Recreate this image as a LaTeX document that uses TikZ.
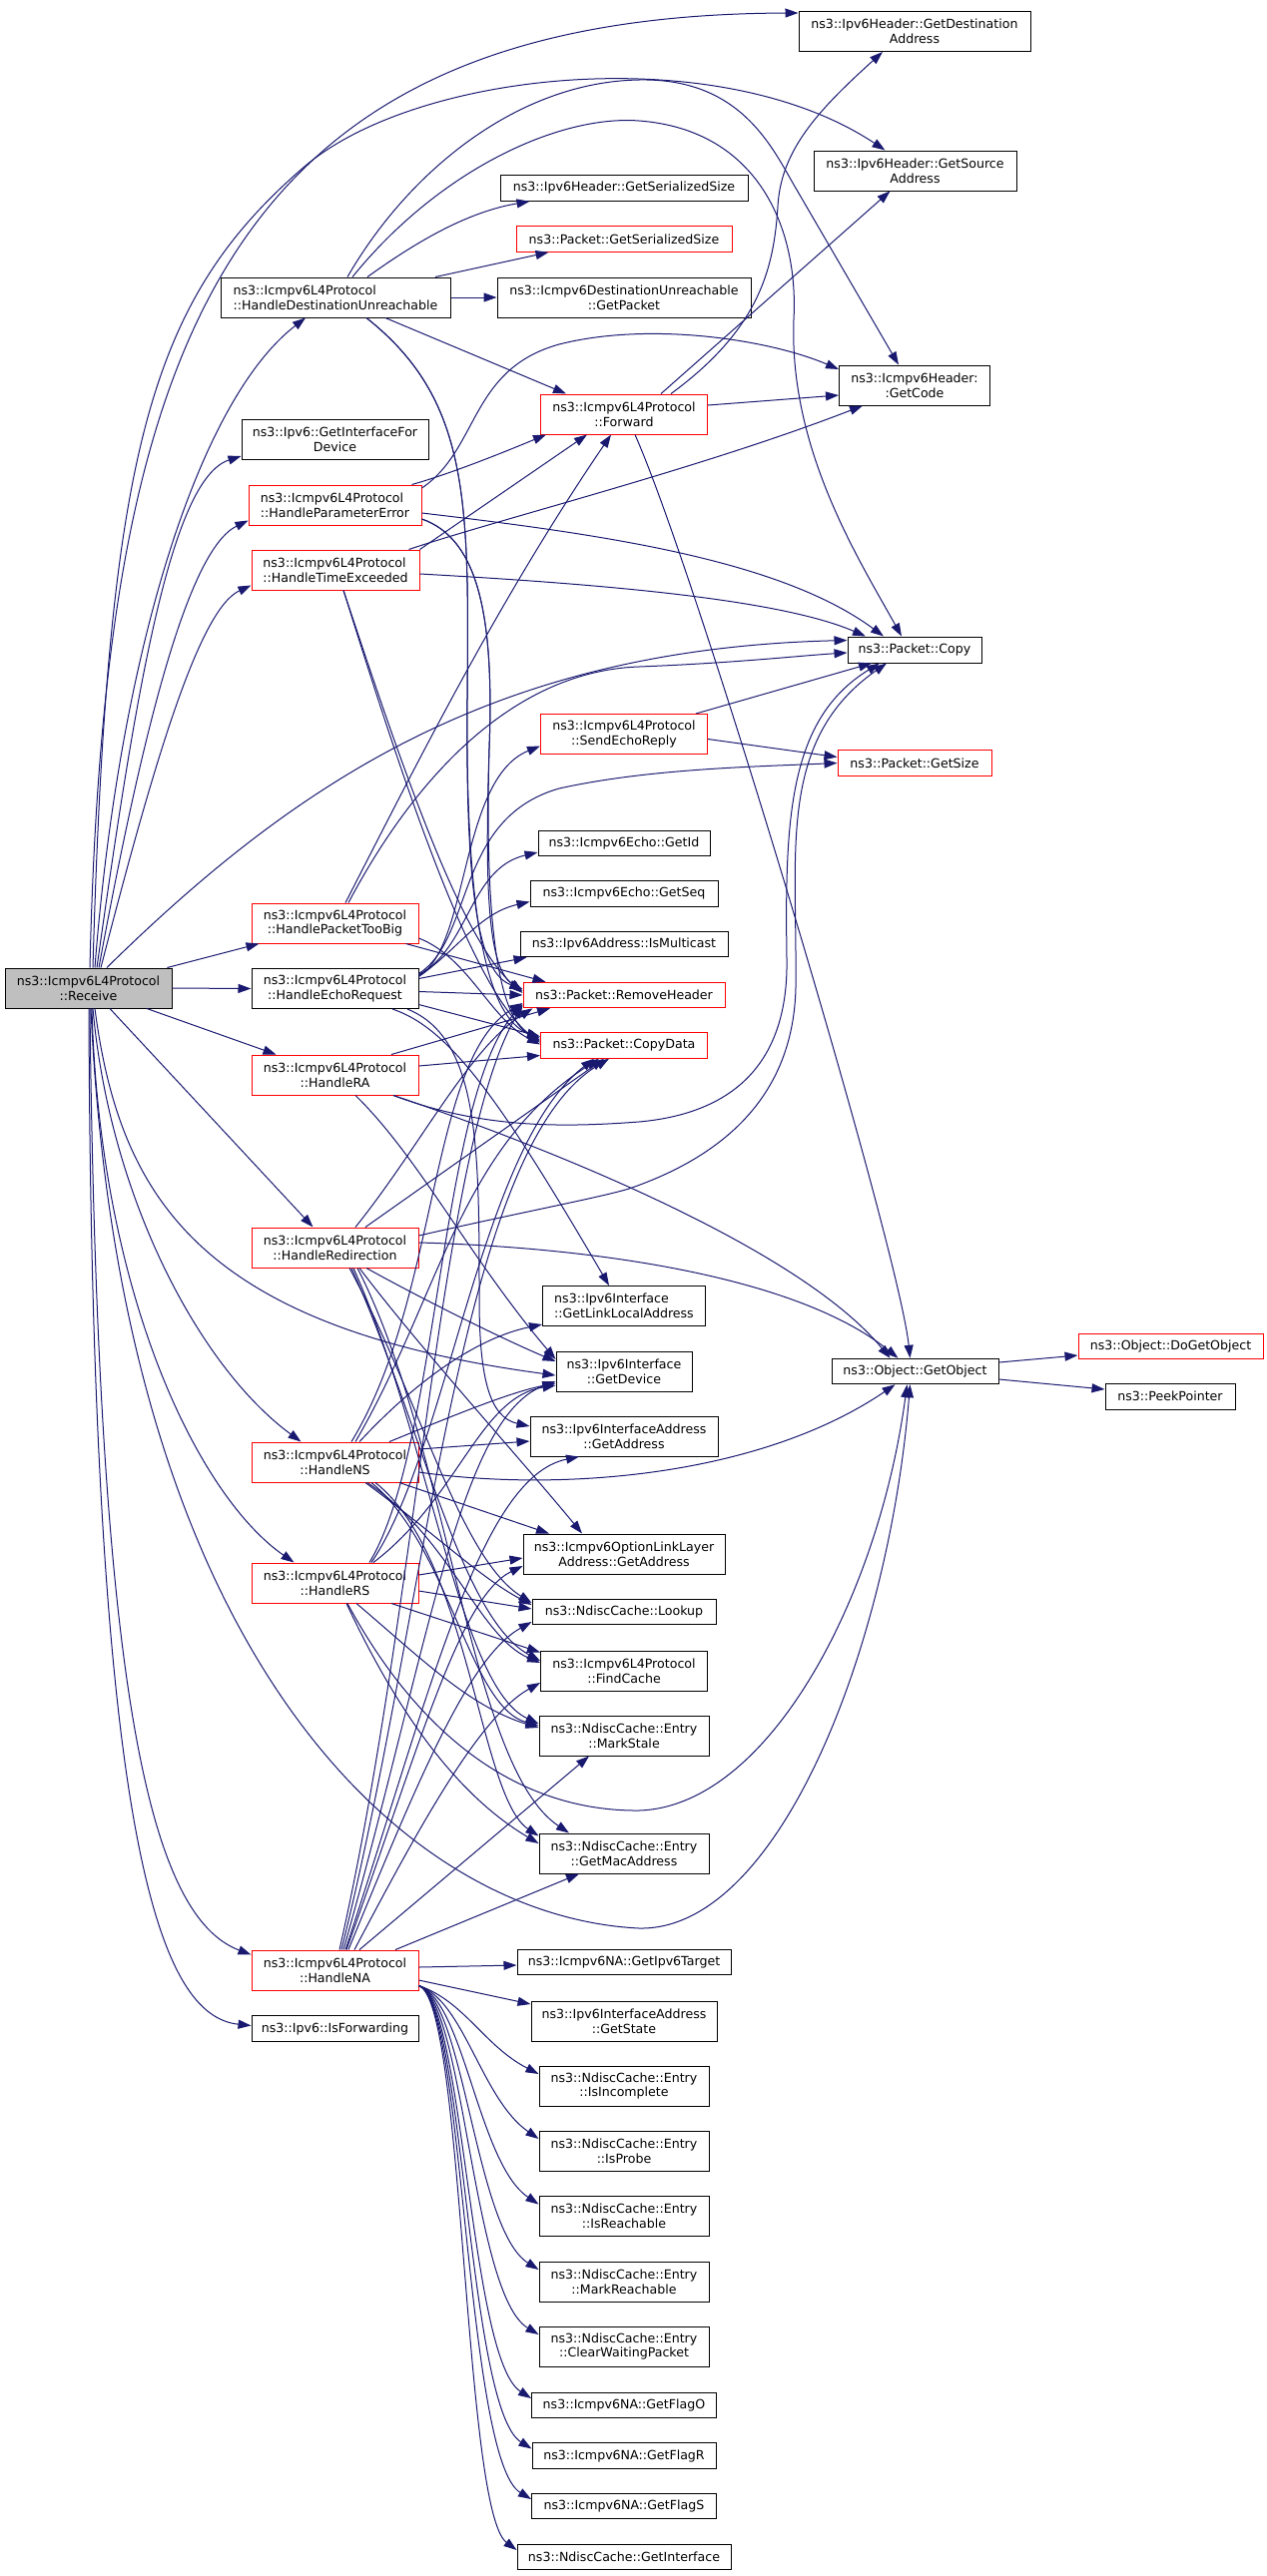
\documentclass[tikz,border=0pt]{standalone}
\usepackage{fontspec}
\newfontfamily\nf{DejaVu Sans}
\usetikzlibrary{arrows.meta,calc}
\definecolor{edgeblue}{HTML}{191970}
\definecolor{boxred}{HTML}{FF0000}
\definecolor{rootgray}{HTML}{BFBFBF}
\begin{document}
\begin{tikzpicture}[x=1pt,y=-1pt,
  fn/.style={draw=black, line width=1pt, inner sep=0pt, align=center,
    font={\nf\fontsize{12.6}{14.7}\selectfont}, minimum height=25.5pt},
  fnn/.style={fn, minimum height=40pt},
  trunc/.style={draw=boxred},
  call/.style={draw=edgeblue, line width=1pt, -{Triangle[length=13pt,width=9pt]}}]
\useasboundingbox (0,0) rectangle (1269,2581);
% left column
\node[fnn, fill=rootgray, minimum width=167pt] (rcv) at (88.5,990) {ns3::Icmpv6L4Protocol\\::Receive};
\node[fnn, align=left, minimum width=230pt] (hdu) at (336,298) {ns3::Icmpv6L4Protocol\\::HandleDestinationUnreachable};
\node[fnn, minimum width=187pt] (gifd) at (335.5,440.5) {ns3::Ipv6::GetInterfaceFor\\Device};
\node[fnn, trunc, align=left, minimum width=173pt] (hpe) at (335.5,506) {ns3::Icmpv6L4Protocol\\::HandleParameterError};
\node[fnn, trunc, align=left, minimum width=168pt] (hte) at (336,571) {ns3::Icmpv6L4Protocol\\::HandleTimeExceeded};
\node[fnn, trunc, minimum width=167pt] (hptb) at (335.5,925) {ns3::Icmpv6L4Protocol\\::HandlePacketTooBig};
\node[fnn, minimum width=167pt] (her) at (335.5,990.5) {ns3::Icmpv6L4Protocol\\::HandleEchoRequest};
\node[fnn, trunc, minimum width=167pt] (hra) at (335.5,1077) {ns3::Icmpv6L4Protocol\\::HandleRA};
\node[fnn, trunc, minimum width=167pt] (hredir) at (335.5,1250) {ns3::Icmpv6L4Protocol\\::HandleRedirection};
\node[fnn, trunc, minimum width=167pt] (hns) at (335.5,1465) {ns3::Icmpv6L4Protocol\\::HandleNS};
\node[fnn, trunc, minimum width=167pt] (hrs) at (335.5,1586) {ns3::Icmpv6L4Protocol\\::HandleRS};
\node[fnn, trunc, minimum width=167pt] (hna) at (335.5,1974) {ns3::Icmpv6L4Protocol\\::HandleNA};
\node[fn, minimum width=167pt] (isfwd) at (335.5,2032.5) {ns3::Ipv6::IsForwarding};
% middle column
\node[fn, minimum width=248pt] (gss) at (625,188.5) {ns3::Ipv6Header::GetSerializedSize};
\node[fn, trunc, minimum width=216pt] (pgss) at (625,239.5) {ns3::Packet::GetSerializedSize};
\node[fnn, minimum width=254pt] (getpacket) at (625,298) {ns3::Icmpv6DestinationUnreachable\\::GetPacket};
\node[fnn, trunc, minimum width=167pt] (fwd) at (625,415) {ns3::Icmpv6L4Protocol\\::Forward};
\node[fnn, trunc, minimum width=167pt] (ser) at (625,735.5) {ns3::Icmpv6L4Protocol\\::SendEchoReply};
\node[fn, minimum width=172pt] (getid) at (625,845) {ns3::Icmpv6Echo::GetId};
\node[fn, minimum width=188pt] (getseq) at (625,895.5) {ns3::Icmpv6Echo::GetSeq};
\node[fn, minimum width=208pt] (ismc) at (625,946) {ns3::Ipv6Address::IsMulticast};
\node[fn, trunc, minimum width=202pt] (rmh) at (625,997) {ns3::Packet::RemoveHeader};
\node[fn, trunc, minimum width=167pt] (cpd) at (625,1047.5) {ns3::Packet::CopyData};
\node[fnn, align=left, minimum width=163pt] (glla) at (625,1308.5) {ns3::Ipv6Interface\\::GetLinkLocalAddress};
\node[fnn, minimum width=136pt] (getdev) at (625,1374) {ns3::Ipv6Interface\\::GetDevice};
\node[fnn, minimum width=188pt] (iaaddr) at (625,1439) {ns3::Ipv6InterfaceAddress\\::GetAddress};
\node[fnn, minimum width=202pt] (olla) at (625,1557) {ns3::Icmpv6OptionLinkLayer\\Address::GetAddress};
\node[fn, minimum width=184pt] (lookup) at (625,1615) {ns3::NdiscCache::Lookup};
\node[fnn, minimum width=167pt] (findcache) at (625,1674) {ns3::Icmpv6L4Protocol\\::FindCache};
\node[fnn, minimum width=170pt] (markstale) at (625,1739) {ns3::NdiscCache::Entry\\::MarkStale};
\node[fnn, minimum width=170pt] (getmac) at (625,1857) {ns3::NdiscCache::Entry\\::GetMacAddress};
\node[fn, minimum width=214pt] (gipt) at (625,1966) {ns3::Icmpv6NA::GetIpv6Target};
\node[fnn, minimum width=186pt] (getstate) at (625,2025) {ns3::Ipv6InterfaceAddress\\::GetState};
\node[fnn, minimum width=170pt] (isinc) at (625,2090) {ns3::NdiscCache::Entry\\::IsIncomplete};
\node[fnn, minimum width=170pt] (isprobe) at (625,2155) {ns3::NdiscCache::Entry\\::IsProbe};
\node[fnn, minimum width=170pt] (isreach) at (625,2220.5) {ns3::NdiscCache::Entry\\::IsReachable};
\node[fnn, minimum width=170pt] (markreach) at (625,2286) {ns3::NdiscCache::Entry\\::MarkReachable};
\node[fnn, minimum width=170pt] (clearwp) at (625,2351) {ns3::NdiscCache::Entry\\::ClearWaitingPacket};
\node[fn, minimum width=185pt] (flago) at (625,2410) {ns3::Icmpv6NA::GetFlagO};
\node[fn, minimum width=184pt] (flagr) at (625,2460.5) {ns3::Icmpv6NA::GetFlagR};
\node[fn, minimum width=185pt] (flags) at (625,2511) {ns3::Icmpv6NA::GetFlagS};
\node[fn, minimum width=214pt] (getif) at (625,2562) {ns3::NdiscCache::GetInterface};
% right column
\node[fnn, minimum width=232pt] (gda) at (916,31.5) {ns3::Ipv6Header::GetDestination\\Address};
\node[fnn, minimum width=203pt] (gsa) at (916.5,171) {ns3::Ipv6Header::GetSource\\Address};
\node[fnn, minimum width=151pt] (getcode) at (916,386) {ns3::Icmpv6Header:\\:GetCode};
\node[fn, minimum width=134pt, minimum height=26pt] (copy) at (916,651) {ns3::Packet::Copy};
\node[fn, trunc, minimum width=154pt] (getsize) at (916,764.5) {ns3::Packet::GetSize};
\node[fn, minimum width=167pt] (getobj) at (916.5,1374) {ns3::Object::GetObject};
\node[fn, trunc, minimum width=185pt] (dgo) at (1172.5,1349) {ns3::Object::DoGetObject};
\node[fn, minimum width=130pt, minimum height=26pt] (peek) at (1172,1399) {ns3::PeekPointer};

% Receive
\draw[call] ($(rcv.north)+(1.5,0)$) .. controls (105,350) and (220,15) .. ($(gda.north west)+(0,2)$);
\draw[call] ($(rcv.north)+(4.5,0)$) .. controls (108,450) and (150,300) .. (306,166) .. controls (420,70) and (720,40) .. ($(gsa.north)+(-30,0)$);
\draw[call] ($(rcv.north)+(18.5,0)$) .. controls (300,780) and (500,650) .. ($(copy.north west)+(0,4)$);
\draw[call] ($(rcv.north)+(6.5,0)$) .. controls (120,650) and (200,400) .. ($(hdu.south)+(-30,0)$);
\draw[call] ($(rcv.north)+(8.5,0)$) .. controls (135,700) and (170,480) .. ($(gifd.south west)+(0,-4)$);
\draw[call] ($(rcv.north)+(10.5,0)$) .. controls (145,720) and (190,550) .. ($(hpe.south west)+(0,-5)$);
\draw[call] ($(rcv.north)+(12.5,0)$) .. controls (155,760) and (200,610) .. ($(hte.south west)+(0,-5)$);
\draw[call] ($(rcv.north east)+(-5,0)$) -- ($(hptb.south west)+(8,0)$);
\draw[call] (rcv.east) -- (her.west);
\draw[call] ($(rcv.south)+(58.5,0)$) -- ($(hra.north west)+(25,0)$);
\draw[call] ($(rcv.south)+(21.5,0)$) -- ($(hredir.north west)+(62,0)$);
\draw[call] ($(rcv.south)+(6.5,0)$) .. controls (120,1200) and (200,1330) .. ($(getdev.west)+(0,4)$);
\draw[call] ($(rcv.south)+(4.5,0)$) .. controls (110,1200) and (200,1370) .. ($(hns.north west)+(50,0)$);
\draw[call] ($(rcv.south)+(3.5,0)$) .. controls (100,1300) and (200,1500) .. ($(hrs.north west)+(43,0)$);
\draw[call] ($(rcv.south)+(2.5,0)$) .. controls (120,1650) and (400,1920) .. (640,1932) .. controls (780,1935) and (890,1650) .. ($(getobj.south)+(-5,0)$);
\draw[call] ($(rcv.south)+(1.5,0)$) .. controls (98,1700) and (150,1920) .. ($(hna.north west)+(0,5)$);
\draw[call] ($(rcv.south)+(0.5,0)$) .. controls (92,1850) and (160,2020) .. ($(isfwd.west)+(0,-3)$);
% HandleDestinationUnreachable
\draw[call] ($(hdu.north)+(32,0)$) .. controls (420,240) and (470,212) .. ($(gss.south west)+(30,0)$);
\draw[call] ($(hdu.north)+(100,0)$) -- ($(pgss.south west)+(33,0)$);
\draw[call] (hdu.east) -- (getpacket.west);
\draw[call] ($(hdu.south)+(50,0)$) -- ($(fwd.north west)+(26,0)$);
\draw[call] ($(hdu.north)+(12,0)$) .. controls (410,170) and (520,82) .. (640,80) .. controls (740,78) and (772,145) .. (795,185) -- ($(getcode.north)+(-16,0)$);
\draw[call] ($(hdu.north)+(17,0)$) .. controls (440,170) and (560,115) .. (640,121) .. controls (760,130) and (800,230) .. (795,320) .. controls (790,450) and (860,560) .. ($(copy.north)+(-13,0)$);
\draw[call] ($(hdu.south)+(31,0)$) .. controls (470,400) and (470,500) .. (468,700) .. controls (466,900) and (480,975) .. ($(rmh.west)+(0,-6)$);
\draw[call] ($(hdu.south)+(31,0)$) .. controls (470,400) and (470,500) .. (468,700) .. controls (466,930) and (490,1020) .. ($(cpd.west)+(0,-7)$);
% HandleParameterError
\draw[call] ($(hpe.north east)+(-10,0)$) .. controls (450,475) and (500,455) .. ($(fwd.south west)+(6,0)$);
\draw[call] ($(hpe.east)+(0,-17)$) .. controls (480,450) and (470,370) .. (560,345) .. controls (650,322) and (770,340) .. ($(getcode.west)+(0,-16)$);
\draw[call] ($(hpe.east)+(0,8)$) .. controls (600,535) and (780,560) .. ($(copy.north)+(-31,0)$);
\draw[call] ($(hpe.east)+(0,14)$) .. controls (480,540) and (495,620) .. (490,750) .. controls (485,900) and (490,970) .. ($(rmh.west)+(0,-4)$);
\draw[call] ($(hpe.east)+(0,14)$) .. controls (480,540) and (495,620) .. (490,750) .. controls (485,930) and (500,1020) .. ($(cpd.west)+(0,-5)$);
% HandleTimeExceeded
\draw[call] (hte.north east) -- ($(fwd.south)+(-37,0)$);
\draw[call] ($(hte.north east)+(-11,0)$) .. controls (500,520) and (700,470) .. ($(getcode.south west)+(24,0)$);
\draw[call] ($(hte.east)+(0,4)$) .. controls (600,585) and (780,600) .. ($(copy.north)+(-49,0)$);
\draw[call] ($(hte.south)+(8,0)$) .. controls (400,760) and (460,940) .. ($(rmh.west)+(0,-2)$);
\draw[call] ($(hte.south)+(8,0)$) .. controls (400,770) and (470,990) .. ($(cpd.west)+(0,-3)$);
% HandlePacketTooBig
\draw[call] ($(hptb.north)+(10.5,0)$) .. controls (420,760) and (500,600) .. ($(fwd.south)+(-13,0)$);
\draw[call] ($(hptb.north)+(13.5,0)$) .. controls (420,770) and (520,672) .. (640,668) .. controls (740,664) and (800,657) .. ($(copy.west)+(0,3)$);
\draw[call] ($(hptb.south east)+(-13,0)$) -- ($(rmh.north west)+(23,0)$);
\draw[call] ($(hptb.east)+(0,15)$) .. controls (470,960) and (490,1020) .. ($(cpd.west)+(0,-1)$);
% HandleEchoRequest
\draw[call] ($(her.east)+(0,-13)$) .. controls (470,950) and (460,780) .. ($(ser.west)+(0,12)$);
\draw[call] ($(her.east)+(0,-15)$) .. controls (475,940) and (455,820) .. (560,790) .. controls (650,770) and (760,768) .. (getsize.west);
\draw[call] ($(her.east)+(0,-14)$) .. controls (470,950) and (470,870) .. ($(getid.west)+(0,9)$);
\draw[call] ($(her.east)+(0,-12)$) .. controls (460,950) and (480,915) .. ($(getseq.west)+(0,8)$);
\draw[call] ($(her.east)+(0,-10)$) -- ($(ismc.south west)+(7,0)$);
\draw[call] ($(her.east)+(0,3)$) -- (rmh.west);
\draw[call] ($(her.east)+(0,16)$) -- ($(cpd.west)+(0,-9)$);
\draw[call] ($(her.south)+(57.5,0)$) .. controls (450,1030) and (500,1100) .. ($(glla.north)+(-15,0)$);
\draw[call] ($(her.south)+(72.5,0)$) .. controls (480,1040) and (480,1150) .. (480,1300) .. controls (480,1380) and (490,1420) .. ($(iaaddr.west)+(0,-10)$);
% HandleRA
\draw[call] ($(hra.north)+(56.5,0)$) -- ($(rmh.south)+(-74,0)$);
\draw[call] ($(hra.east)+(0,-9)$) -- ($(cpd.west)+(0,10)$);
\draw[call] ($(hra.south)+(58.5,0)$) .. controls (480,1130) and (560,1130) .. (640,1124) .. controls (740,1115) and (790,1060) .. (788,960) .. controls (786,820) and (790,720) .. ($(copy.south)+(-35,0)$);
\draw[call] ($(hra.south)+(58.5,0)$) .. controls (550,1150) and (800,1250) .. ($(getobj.north)+(-25,0)$);
\draw[call] ($(hra.south)+(20.5,0)$) .. controls (420,1160) and (470,1260) .. ($(getdev.west)+(0,-12)$);
% HandleRedirection
\draw[call] ($(hredir.north)+(20.5,0)$) .. controls (420,1150) and (470,1050) .. ($(rmh.south west)+(10,0)$);
\draw[call] ($(hredir.north)+(30.5,0)$) -- ($(cpd.south)+(-20,0)$);
\draw[call] ($(hredir.east)+(0,-12)$) .. controls (520,1215) and (600,1200) .. (630,1191) .. controls (720,1160) and (800,1100) .. (797,977) .. controls (798,850) and (780,740) .. ($(copy.south)+(-28,0)$);
\draw[call] ($(hredir.east)+(0,-5)$) .. controls (600,1250) and (800,1280) .. ($(getobj.north)+(-17,0)$);
\draw[call] ($(hredir.south)+(31.5,0)$) .. controls (420,1300) and (500,1340) .. ($(getdev.west)+(0,-10)$);
\draw[call] ($(hredir.south)+(24.5,0)$) .. controls (420,1350) and (520,1460) .. ($(olla.north)+(-42,0)$);
\draw[call] ($(hredir.south)+(14.5,0)$) .. controls (420,1400) and (460,1560) .. ($(lookup.west)+(0,-9)$);
\draw[call] ($(hredir.south)+(16.5,0)$) .. controls (420,1420) and (460,1620) .. ($(findcache.west)+(0,-10)$);
\draw[call] ($(hredir.south)+(18.5,0)$) .. controls (430,1440) and (460,1690) .. ($(markstale.west)+(0,-12)$);
\draw[call] ($(hredir.south)+(22.5,0)$) .. controls (450,1450) and (470,1770) .. ($(getmac.north)+(-55,0)$);
% HandleNS
\draw[call] ($(hns.north)+(16.5,0)$) .. controls (440,1300) and (430,1060) .. ($(rmh.west)+(0,8)$);
\draw[call] ($(hns.north)+(20.5,0)$) .. controls (440,1300) and (460,1150) .. ($(cpd.south)+(-25,0)$);
\draw[call] ($(hns.north)+(24.5,0)$) .. controls (420,1380) and (480,1340) .. ($(glla.south west)+(0,-2)$);
\draw[call] ($(hns.north)+(54.5,0)$) .. controls (450,1420) and (510,1395) .. ($(getdev.west)+(0,12)$);
\draw[call] ($(hns.east)+(0,-13)$) -- ($(iaaddr.west)+(0,5)$);
\draw[call] ($(hns.east)+(0,10)$) .. controls (560,1495) and (760,1480) .. ($(getobj.south)+(-20,0)$);
\draw[call] ($(hns.south)+(64.5,0)$) -- ($(olla.north)+(-75,0)$);
\draw[call] ($(hns.south)+(30.5,0)$) .. controls (440,1540) and (480,1580) .. ($(lookup.west)+(0,-7)$);
\draw[call] ($(hns.south)+(32.5,0)$) .. controls (450,1540) and (480,1640) .. ($(findcache.west)+(0,-8)$);
\draw[call] ($(hns.south)+(36.5,0)$) .. controls (450,1550) and (470,1710) .. ($(markstale.west)+(0,-10)$);
\draw[call] ($(hns.south)+(40.5,0)$) .. controls (470,1560) and (480,1800) .. ($(getmac.north west)+(0,3)$);
% HandleRS
\draw[call] ($(hrs.north)+(34.5,0)$) .. controls (440,1450) and (440,1100) .. ($(rmh.west)+(0,9)$);
\draw[call] ($(hrs.north)+(36.5,0)$) .. controls (450,1450) and (480,1150) .. ($(cpd.south)+(-30,0)$);
\draw[call] ($(hrs.north)+(38.5,0)$) .. controls (460,1500) and (480,1400) .. ($(getdev.west)+(0,14)$);
\draw[call] ($(hrs.east)+(0,-8)$) -- ($(olla.west)+(0,4)$);
\draw[call] ($(hrs.east)+(0,8)$) -- ($(lookup.west)+(0,-3)$);
\draw[call] ($(hrs.south)+(56.5,0)$) -- ($(findcache.north west)+(0,2)$);
\draw[call] ($(hrs.south)+(21.5,0)$) .. controls (420,1660) and (470,1710) .. ($(markstale.west)+(0,-8)$);
\draw[call] ($(hrs.south)+(11.5,0)$) .. controls (400,1720) and (460,1800) .. ($(getmac.west)+(0,-10)$);
\draw[call] ($(hrs.south)+(12.5,0)$) .. controls (420,1740) and (520,1815) .. (640,1814) .. controls (770,1810) and (880,1600) .. ($(getobj.south)+(-8,0)$);
% HandleNA
\draw[call] ($(hna.north)+(4.5,0)$) .. controls (420,1600) and (440,1150) .. ($(rmh.west)+(0,10)$);
\draw[call] ($(hna.north)+(6.5,0)$) .. controls (430,1600) and (460,1150) .. ($(cpd.south)+(-15,0)$);
\draw[call] ($(hna.north)+(8.5,0)$) .. controls (430,1650) and (460,1420) .. ($(getdev.west)+(0,10)$);
\draw[call] ($(hna.north)+(10.5,0)$) .. controls (430,1700) and (480,1480) .. ($(iaaddr.south)+(-45,0)$);
\draw[call] ($(hna.north)+(11.5,0)$) .. controls (420,1750) and (460,1600) .. ($(olla.west)+(0,12)$);
\draw[call] ($(hna.north)+(13.5,0)$) .. controls (420,1780) and (470,1660) .. ($(lookup.west)+(0,10)$);
\draw[call] ($(hna.north)+(19.5,0)$) .. controls (420,1830) and (480,1720) .. ($(findcache.west)+(0,12)$);
\draw[call] ($(hna.north)+(24.5,0)$) -- ($(markstale.south)+(-35,0)$);
\draw[call] ($(hna.north)+(60.5,0)$) -- ($(getmac.south)+(-45,0)$);
\draw[call] ($(hna.east)+(0,-3)$) -- ($(gipt.west)+(0,3)$);
\draw[call] ($(hna.east)+(0,10)$) -- ($(getstate.west)+(0,-17)$);
\draw[call] ($(hna.south east)+(0,-5)$) .. controls (465,2005) and (485,2050) .. ($(isinc.west)+(0,-12)$);
\draw[call] ($(hna.south east)+(0,-5)$) .. controls (465,2005) and (482,2103) .. ($(isprobe.west)+(0,-12)$);
\draw[call] ($(hna.south east)+(0,-5)$) .. controls (465,2005) and (479,2168) .. ($(isreach.west)+(0,-12)$);
\draw[call] ($(hna.south east)+(0,-5)$) .. controls (465,2005) and (476,2234) .. ($(markreach.west)+(0,-12)$);
\draw[call] ($(hna.south east)+(0,-5)$) .. controls (465,2005) and (473,2299) .. ($(clearwp.west)+(0,-12)$);
\draw[call] ($(hna.south east)+(0,-5)$) .. controls (465,2005) and (470,2363) .. ($(flago.west)+(0,-7)$);
\draw[call] ($(hna.south east)+(0,-5)$) .. controls (465,2005) and (468,2413) .. ($(flagr.west)+(0,-7)$);
\draw[call] ($(hna.south east)+(0,-5)$) .. controls (465,2005) and (466,2464) .. ($(flags.west)+(0,-7)$);
\draw[call] ($(hna.south east)+(0,-5)$) .. controls (465,2005) and (464,2515) .. ($(getif.west)+(0,-7)$);
% Forward
\draw[call] ($(fwd.north east)+(-37,0)$) .. controls (760,330) and (775,270) .. (779,207) .. controls (782,150) and (820,110) .. ($(gda.south)+(-32,0)$);
\draw[call] ($(fwd.north east)+(-47,0)$) -- ($(gsa.south)+(-25,0)$);
\draw[call] ($(fwd.east)+(0,-9)$) -- ($(getcode.west)+(0,10)$);
\draw[call] ($(fwd.south)+(11,0)$) .. controls (700,580) and (900,1250) .. ($(getobj.north)+(-5,0)$);
% SendEchoReply
\draw[call] ($(ser.north east)+(-12,0)$) -- ($(copy.south)+(-43,0)$);
\draw[call] ($(ser.east)+(0,5)$) -- ($(getsize.west)+(0,-6)$);
% GetObject
\draw[call] ($(getobj.east)+(0,-9)$) -- ($(dgo.west)+(0,9)$);
\draw[call] ($(getobj.east)+(0,8)$) -- ($(peek.west)+(0,-7)$);
\end{tikzpicture}
\end{document}
